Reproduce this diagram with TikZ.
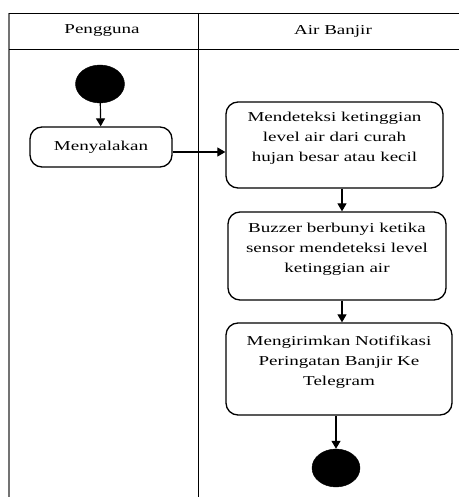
\documentclass[tikz,border=0pt]{standalone}
\usepackage{fontspec}
\setmainfont[FakeStretch=1.4]{Liberation Serif}
\usetikzlibrary{shapes.geometric,arrows.meta}
\definecolor{garisabu}{rgb}{0.45, 0.45, 0.45}
\tikzset{
  aktivitas/.style={draw, line width=1.3pt, rounded corners=12pt, align=center,
    font=\fontsize{13.6}{20}\selectfont, inner sep=2pt},
  titik/.style={ellipse, fill=black, draw=black, inner sep=0pt},
  alir/.style={line width=1.2pt, -{Triangle[width=9pt,length=8pt]}}
}
\begin{document}
\begin{tikzpicture}[x=1pt, y=-1pt]
		\useasboundingbox (0,0) rectangle (459,497);
		% swimlane
		\draw[line width=1.4pt, color=garisabu] (9,13)--(9,497);
		\draw[line width=0.8pt] (9,13)--(459,13) (9,49)--(459,49) (198,13)--(198,497);
		\node (pengguna) at (102,31) {\fontsize{13.6}{20}\selectfont Pengguna};
		\node (airbanjir) at (333,31) {\fontsize{13.6}{20}\selectfont Air Banjir};
		% aktivitas
		\node[titik, minimum width=49pt, minimum height=38pt] (mulai) at (100,84) {};
		\node[aktivitas, minimum width=142pt, minimum height=40pt] (nyala) at (101,147) {Menyalakan};
		\node[aktivitas, minimum width=217pt, minimum height=86pt, text depth=16pt] (deteksi) at (334.5,145)
			{Mendeteksi ketinggian\\level air dari curah\\hujan besar atau kecil};
		\node[aktivitas, minimum width=218pt, minimum height=88pt, text depth=17pt] (buzzer) at (337,256)
			{Buzzer berbunyi ketika\\sensor mendeteksi level\\ketinggian air};
		\node[aktivitas, minimum width=226pt, minimum height=92pt, text depth=17pt] (kirim) at (339,369)
			{Mengirimkan Notifikasi\\Peringatan Banjir Ke\\Telegram};
		\node[titik, minimum width=48pt, minimum height=38pt] (selesai) at (336,468) {};
		% alur
		\draw[alir] (mulai) -- (nyala);
		\draw[alir] ([yshift=-5pt]nyala.east) -- ([yshift=-5pt]nyala.east -| deteksi.west);
		\draw[alir] ([xshift=7.5pt]deteksi.south) -- ([xshift=7.5pt]deteksi.south |- buzzer.north);
		\draw[alir] ([xshift=5pt]buzzer.south) -- ([xshift=5pt]buzzer.south |- kirim.north);
		\draw[alir] (kirim.south -| selesai) -- (selesai);
	\end{tikzpicture}
\end{document}
